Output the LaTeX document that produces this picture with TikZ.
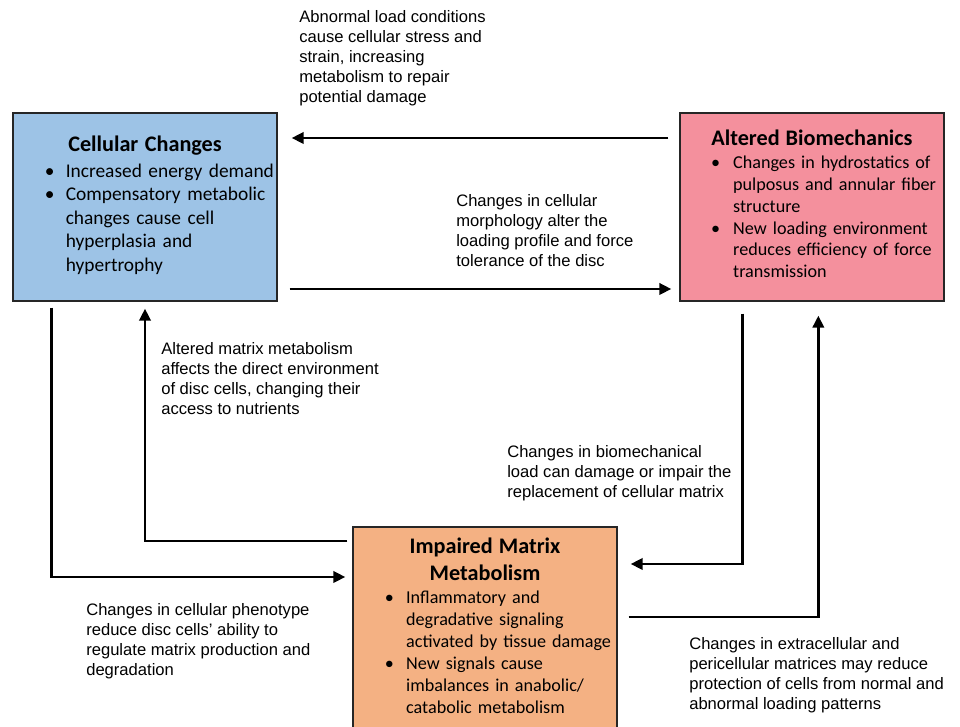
\documentclass[tikz,border=0pt]{standalone}
\usepackage{fontspec}
\setmainfont{Carlito}
\newfontfamily\labelfont{Liberation Sans}
\usepackage{xcolor}
\usetikzlibrary{arrows.meta,calc,positioning}

\definecolor{cellblue}{HTML}{9DC3E6}
\definecolor{biopink}{HTML}{F4909D}
\definecolor{matorange}{HTML}{F4B183}

\newcommand{\boxtitle}[1]{\makebox[\linewidth]{\fontsize{15.8}{19}\selectfont\bfseries #1}}

\begin{document}
\begin{tikzpicture}[x=0.025cm, y=0.025cm,
  box/.style={draw=black!85, line width=0.9pt, text width=6.6cm, inner xsep=0pt,
    minimum height=4.7cm, align=left},
  note/.style={anchor=north west, inner sep=0pt, align=left,
    font=\labelfont\fontsize{11.8}{14.2}\selectfont},
  flow/.style={-{Triangle[length=8.5pt,width=8pt]}, line width=2pt}]

\clip (0,0) rectangle (960,727);

\node[box, fill=cellblue, font=\fontsize{13.8}{16.7}\selectfont] (cell) at (145,520) {
\boxtitle{Cellular Changes}\\[2pt]
\hspace*{0.8cm}\begin{tabular}[t]{@{}p{0.52cm}@{}l@{}}
\textbullet & Increased energy demand \\
\textbullet & Compensatory metabolic \\
 & changes cause cell \\
 & hyperplasia and \\
 & hypertrophy
\end{tabular}
};

\node[box, fill=biopink, font=\fontsize{12.9}{15.5}\selectfont] (alt) at (812,520) {
\boxtitle{Altered Biomechanics}\\[1pt]
\hspace*{0.78cm}\begin{tabular}[t]{@{}p{0.55cm}@{}l@{}}
\textbullet & Changes in hydrostatics of \\
 & pulposus and annular fiber \\
 & structure \\
\textbullet & New loading environment \\
 & reduces efficiency of force \\
 & transmission
\end{tabular}
};

\node[box, fill=matorange, minimum height=5.1cm, font=\fontsize{12.9}{15.6}\selectfont] (imp) at (485,98) {
\boxtitle{Impaired Matrix}\\[3pt]
\boxtitle{Metabolism}\\[1pt]
\hspace*{0.8cm}\begin{tabular}[t]{@{}p{0.53cm}@{}l@{}}
\textbullet & Inflammatory and \\
 & degradative signaling \\
 & activated by tissue damage \\
\textbullet & New signals cause \\
 & imbalances in anabolic/ \\
 & catabolic metabolism
\end{tabular}
};

\node[note] (abnormal) at (299,717) {Abnormal load conditions\\cause cellular stress and\\strain, increasing\\metabolism to repair\\potential damage};
\node[note] (morph) at (456,533) {Changes in cellular\\morphology alter the\\loading profile and force\\tolerance of the disc};
\node[note] (matrix) at (161,385) {Altered matrix metabolism\\affects the direct environment\\of disc cells, changing their\\access to nutrients};
\node[note] (biomech) at (507,282) {Changes in biomechanical\\load can damage or impair the\\replacement of cellular matrix};
\node[note] (pheno) at (86,124) {Changes in cellular phenotype\\reduce disc cells’ ability to\\regulate matrix production and\\degradation};
\node[note] (extra) at (689,90) {Changes in extracellular and\\pericellular matrices may reduce\\protection of cells from normal and\\abnormal loading patterns};

% top pair
\draw[flow] ($(alt.west)+(-11,69)$) -- ($(cell.east)+(14,69)$);
\draw[flow] ($(cell.east)+(12,-82)$) -- ($(alt.west)+(-8,-82)$);

% left pair
\draw[flow] ($(cell.south west)+(39,-6)$) |- ($(imp.west)+(-7,52)$);
\draw[flow] ($(imp.west)+(-5,88)$) -| ($(cell.south)+(0,-7)$);

% right pair
\draw[flow] ($(alt.south west)+(63,-12)$) |- ($(imp.east)+(13,65)$);
\draw[flow] ($(imp.east)+(11,12)$) -| ($(alt.south west)+(139,-14)$);

\end{tikzpicture}
\end{document}
